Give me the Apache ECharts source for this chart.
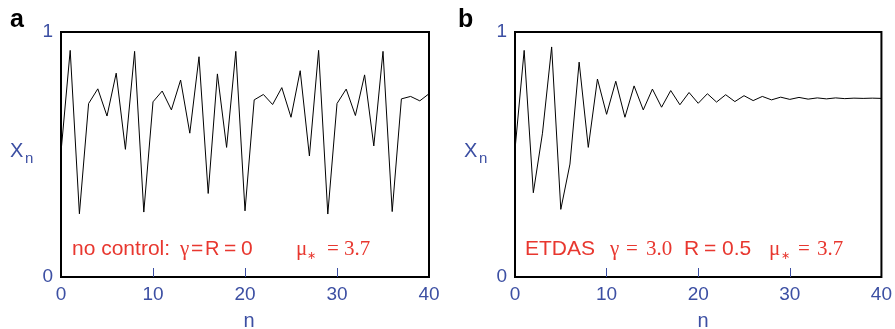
<!DOCTYPE html>
<html>
<head>
<meta charset="utf-8">
<script src="https://cdn.jsdelivr.net/npm/echarts@6/dist/echarts.min.js"></script>
<style>
  html, body { margin: 0; padding: 0; background: #fff; }
  #chart { width: 895px; height: 329px; }
</style>
</head>
<body>
<div id="chart"></div>
<script>
// Iterates n = 0..40
const steps = Array.from({ length: 41 }, (_, i) => i);

// Panel a: logistic map without control (mu* = 3.7)
const xNoControl = [
  0.51, 0.925, 0.258, 0.708, 0.768, 0.657, 0.832, 0.521, 0.921, 0.265,
  0.715, 0.759, 0.682, 0.804, 0.587, 0.899, 0.341, 0.829, 0.529, 0.921,
  0.270, 0.723, 0.745, 0.704, 0.773, 0.652, 0.842, 0.494, 0.925, 0.257,
  0.708, 0.767, 0.659, 0.825, 0.535, 0.921, 0.267, 0.727, 0.737, 0.719,
  0.748
];

// Panel b: ETDAS control, gamma = 3.0, R = 0.5
const xEtdas = [
  0.52, 0.925, 0.344, 0.587, 0.939, 0.276, 0.461, 0.877, 0.529, 0.808,
  0.664, 0.799, 0.652, 0.780, 0.682, 0.767, 0.693, 0.761, 0.703, 0.753,
  0.709, 0.748, 0.714, 0.744, 0.716, 0.740, 0.720, 0.737, 0.723, 0.734,
  0.725, 0.733, 0.726, 0.731, 0.727, 0.731, 0.728, 0.730, 0.729, 0.730,
  0.729
];

const xTicks = [0, 10, 20, 30, 40];
const yTicks = [0, 1];

const BLUE = '#3c4fa3';
const RED = '#e8372f';
const SANS = '"Liberation Sans", Arial, sans-serif';
const SERIF = '"Liberation Serif", "Times New Roman", serif';

const panels = [
  { left: 61, width: 368, data: xNoControl, tag: 'a', tagX: 10 },
  { left: 515, width: 368, data: xEtdas, tag: 'b', tagX: 458 }
];
const TOP = 32, HEIGHT = 245;

const chart = echarts.init(document.getElementById('chart'), null, { renderer: 'canvas' });

const grids = panels.map(p => ({
  left: p.left, top: TOP, width: p.width, height: HEIGHT,
  show: true, borderColor: '#000', borderWidth: 2, backgroundColor: 'transparent'
}));

const xAxes = panels.map((p, i) => ({
  type: 'value', gridIndex: i, min: xTicks[0], max: xTicks[xTicks.length - 1], interval: 10,
  axisLine: { show: false },
  axisTick: { show: true, inside: true, length: 9, lineStyle: { color: BLUE, width: 1 },
              customValues: xTicks.slice(1, -1) },
  axisLabel: { color: BLUE, fontSize: 19, fontFamily: SANS, margin: 8 },
  splitLine: { show: false }
}));

const yAxes = panels.map((p, i) => ({
  type: 'value', gridIndex: i, min: yTicks[0], max: yTicks[1], interval: 1,
  axisLine: { show: false },
  axisTick: { show: false },
  axisLabel: { color: BLUE, fontSize: 19, fontFamily: SANS, margin: 8 },
  splitLine: { show: false }
}));

const series = panels.map((p, i) => ({
  type: 'line', xAxisIndex: i, yAxisIndex: i,
  data: steps.map(n => [n, p.data[n]]),
  showSymbol: false, symbol: 'none',
  lineStyle: { color: '#000', width: 1 },
  animation: false
}));

// absolutely placed text label
function txt(x, y, text, family, size, color, extra) {
  return {
    type: 'text', x: x, y: y, silent: true,
    style: Object.assign({
      text: text, fill: color, fontSize: size, fontFamily: family,
      align: 'left', verticalAlign: 'middle'
    }, extra || {})
  };
}

const graphics = [];
panels.forEach(p => {
  const dx = p.left - 61;
  graphics.push(txt(p.tagX, 20, p.tag, SANS, 25, '#000', { fontWeight: 'bold' }));
  // y axis name X_n
  graphics.push(txt(10 + dx, 151, 'X', SANS, 20, BLUE));
  graphics.push(txt(25 + dx, 159, 'n', SANS, 15, BLUE));
  // x axis name n
  graphics.push(txt(p.left + p.width / 2 + 4, 321, 'n', SANS, 20, BLUE, { align: 'center' }));
});

const YB = 249;
const SUB = YB + 7;
// panel a annotation
graphics.push(txt(72, YB, 'no control:', SANS, 21, RED));
graphics.push(txt(180, YB, 'γ', SERIF, 21, RED));
graphics.push(txt(191, YB, '=', SANS, 21, RED));
graphics.push(txt(205, YB, 'R', SANS, 20, RED));
graphics.push(txt(224, YB, '=', SANS, 21, RED));
graphics.push(txt(241, YB, '0', SANS, 21, RED));
graphics.push(txt(296, YB, 'μ', SERIF, 21, RED));
graphics.push(txt(307, SUB, '∗', SERIF, 11, RED));
graphics.push(txt(327, YB, '=', SERIF, 21, RED));
graphics.push(txt(344, YB, '3.7', SERIF, 21, RED));

// panel b annotation
graphics.push(txt(525, YB, 'ETDAS', SANS, 21, RED));
graphics.push(txt(610, YB, 'γ', SERIF, 21, RED));
graphics.push(txt(626, YB, '=', SERIF, 21, RED));
graphics.push(txt(646, YB, '3.0', SERIF, 21, RED));
graphics.push(txt(684, YB, 'R', SANS, 21, RED));
graphics.push(txt(704, YB, '=', SANS, 21, RED));
graphics.push(txt(722, YB, '0.5', SANS, 21, RED));
graphics.push(txt(769, YB, 'μ', SERIF, 21, RED));
graphics.push(txt(781, SUB, '∗', SERIF, 11, RED));
graphics.push(txt(798, YB, '=', SERIF, 21, RED));
graphics.push(txt(817, YB, '3.7', SERIF, 21, RED));

chart.setOption({
  animation: false,
  grid: grids,
  xAxis: xAxes,
  yAxis: yAxes,
  series: series,
  graphic: graphics
});
</script>
</body>
</html>
